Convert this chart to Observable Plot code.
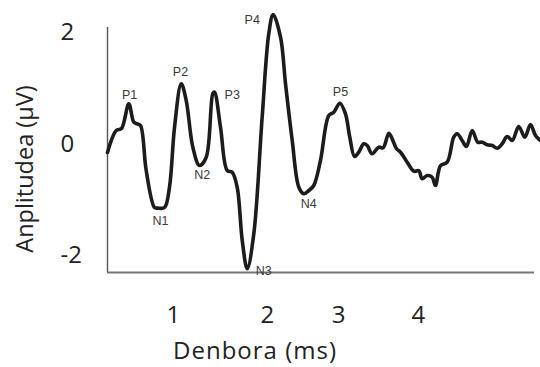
<!DOCTYPE html>
<html><head><meta charset="utf-8">
<script src="https://cdn.jsdelivr.net/npm/d3@7"></script>
<script src="https://cdn.jsdelivr.net/npm/@observablehq/plot@0.6"></script>
<style>body{margin:0;background:#fff} #chart svg{display:block;background:#fff}</style>
</head><body><div id="chart"></div>
<script>
// waveform (time in ms, amplitude in µV)
const timeMs = [0.192,0.299,0.364,0.453,0.514,0.556,0.596,0.666,0.768,0.808,0.890,0.951,1.013,1.095,1.156,1.237,1.319,1.401,1.482,1.502,1.576,1.658,1.719,1.780,1.842,1.903,1.984,2.086,2.167,2.221,2.311,2.372,2.454,2.535,2.596,2.657,2.718,2.800,2.902,2.963,3.037,3.106,3.159,3.217,3.269,3.330,3.372,3.433,3.514,3.568,3.637,3.678,3.731,3.780,3.862,3.943,4.004,4.046,4.107,4.168,4.208,4.270,4.352,4.432,4.474,4.535,4.588,4.658,4.726,4.780,4.841,4.903,4.964,5.025,5.086,5.148,5.228,5.302,5.372,5.433,5.494];
const amplitude = [-0.152,0.242,0.278,0.721,0.391,0.362,0.332,-0.475,-1.139,-1.150,-1.139,-0.775,0.301,1.080,0.780,-0.057,-0.386,-0.237,0.906,0.929,0.301,-0.475,-0.506,-0.775,-1.731,-2.239,-1.605,0.481,1.977,2.323,1.916,1.080,0.063,-0.775,-0.893,-0.834,-0.744,-0.296,0.511,0.570,0.732,0.542,0.122,-0.224,-0.147,0.004,-0.027,-0.176,-0.057,-0.068,0.194,0.093,-0.086,-0.147,-0.326,-0.488,-0.480,-0.624,-0.565,-0.596,-0.744,-0.386,-0.326,0.122,0.183,0.063,-0.045,0.242,0.032,0.032,-0.014,-0.027,-0.075,0.004,0.135,0.063,0.314,0.122,0.350,0.152,0.063];

// peak annotations
const peakNames = ["P1","P2","P3","P4","P5","N1","N2","N3","N4"];
const peakTimes = [0.462,1.086,1.719,1.964,3.045,0.841,1.352,2.106,2.657];
const peakAmps  = [0.888,1.300,0.883,2.233,0.929,-1.385,-0.547,-2.282,-1.085];

// axes
const xTickValues = [1, 2.151, 3.021, 4];
const xTickLabels = ["1","2","3","4"];
const yTickValues = [-2, 0, 2];
const xDomain = [0.192, 5.421];
const yDomain = [-2.305, 2.090];
const xLabel = "Denbora (ms)";
const yLabel = "Anplitudea (µV)";

const wave = timeMs.map((t, i) => ({t, a: amplitude[i]}));
const peaks = peakNames.map((n, i) => ({n, t: peakTimes[i], a: peakAmps[i]}));

const chart = Plot.plot({
  width: 540,
  height: 367,
  marginLeft: 107,
  marginRight: 6,
  marginTop: 27,
  marginBottom: 95,
  style: {fontFamily: "'Open Sans', sans-serif", background: "#fff"},
  x: {domain: xDomain},
  y: {domain: yDomain},
  marks: [
    Plot.ruleX([xDomain[0]], {stroke: "#555", strokeWidth: 1.4}),
    Plot.ruleY([yDomain[0]], {stroke: "#777", strokeWidth: 2}),
    Plot.line(wave, {x: "t", y: "a", stroke: "#1c1c1c", strokeWidth: 3.6, curve: "catmull-rom", strokeLinejoin: "round", strokeLinecap: "round"}),
    Plot.text(peaks, {x: "t", y: "a", text: "n", fontSize: 12.5, fill: "#3a3a3a", fontFamily: "'Liberation Sans', Arial, sans-serif"}),
    Plot.axisY(yTickValues, {tickSize: 0, tickPadding: 47, textAnchor: "start", fontSize: 24, fill: "#222", tickFormat: d => String(d), label: null}),
    Plot.axisX(xTickValues, {tickSize: 0, tickPadding: 33, fontSize: 24, fill: "#222", tickFormat: d => xTickLabels[xTickValues.indexOf(d)], label: null}),
    Plot.text([xLabel], {frameAnchor: "bottom", text: d => d, lineAnchor: "middle", textAnchor: "middle", dx: -66, dy: 79, fontSize: 24, fill: "#222"}),
    Plot.text([yLabel], {frameAnchor: "left", text: d => d, lineAnchor: "middle", textAnchor: "middle", rotate: -90, dx: -82, dy: 19, fontSize: 23.5, fill: "#222"})
  ]
});
d3.select(chart).selectAll("text").filter(function() { return this.textContent === xLabel; }).attr("letter-spacing", 1);
document.getElementById("chart").append(chart);
</script>
</body></html>
